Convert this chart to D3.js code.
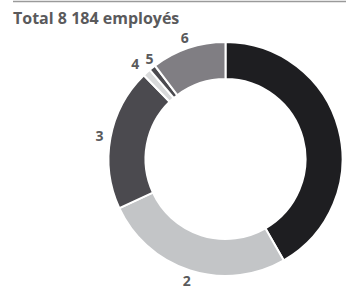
<!DOCTYPE html>
<html>
<head>
<meta charset="utf-8">
<script src="https://cdn.jsdelivr.net/npm/d3@7"></script>
<style>
  body { margin: 0; background: #fff; }
</style>
</head>
<body>
<div id="chart"></div>
<script>
var categories = ["1", "2", "3", "4", "5", "6"];
var values = [41.7, 26.4, 19.6, 1.1, 0.9, 10.3];
var labels = ["", "2", "3", "4", "5", "6"];
var colors = ["#1e1e21", "#c3c5c7", "#4b4a4f", "#d8d9da", "#4b4a4f", "#807e83"];

var width = 347, height = 289;
var cx = 225.5, cy = 159;
var outerR = 117, innerR = 80;

var svg = d3.select("#chart")
  .append("svg")
  .attr("width", width)
  .attr("height", height);

svg.append("line")
  .attr("x1", 13).attr("x2", 346)
  .attr("y1", 1.5).attr("y2", 1.5)
  .attr("stroke", "#9a9a9a")
  .attr("stroke-width", 1.5);

svg.append("text")
  .attr("x", 13)
  .attr("y", 24)
  .attr("font-family", "'Open Sans', sans-serif")
  .attr("font-weight", "bold")
  .attr("font-size", 16)
  .attr("fill", "#5a5a5c")
  .text("Total 8 184 employés");

var data = categories.map(function(c, i) { return {cat: c, value: values[i], label: labels[i], color: colors[i]}; });

var pie = d3.pie()
  .sort(null)
  .value(function(d) { return d.value; });

var arc = d3.arc()
  .innerRadius(innerR)
  .outerRadius(outerR);

var labelArc = d3.arc()
  .innerRadius(128)
  .outerRadius(128);

var g = svg.append("g")
  .attr("transform", "translate(" + cx + "," + cy + ")");

var arcs = pie(data);

g.selectAll("path")
  .data(arcs)
  .enter().append("path")
    .attr("d", arc)
    .attr("fill", function(d) { return d.data.color; })
    .attr("stroke", "#fff")
    .attr("stroke-width", 2);

// narrow slices: push neighbouring labels apart
var narrow = 0;
g.selectAll("text")
  .data(arcs)
  .enter().append("text")
    .attr("transform", function(d) { return "translate(" + labelArc.centroid(d) + ")"; })
    .attr("text-anchor", function(d) {
      if (d.endAngle - d.startAngle < 0.15) { return (narrow++ % 2 == 0) ? "end" : "start"; }
      return "middle";
    })
    .attr("dy", "0.35em")
    .attr("font-family", "'Open Sans', sans-serif")
    .attr("font-weight", "bold")
    .attr("font-size", 14)
    .attr("fill", "#5a5a5c")
    .text(function(d) { return d.data.label; });
</script>
</body>
</html>
